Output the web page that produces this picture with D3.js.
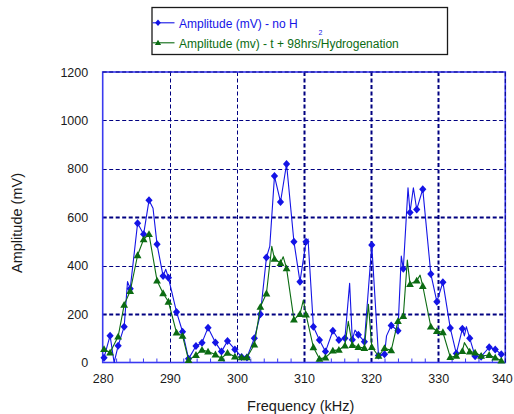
<!DOCTYPE html>
<html>
<head>
<meta charset="utf-8">
<script src="https://cdn.jsdelivr.net/npm/d3@7"></script>
<style>
  html, body { margin: 0; padding: 0; background: #fff; }
  svg { display: block; font-family: "Liberation Sans", Arial, Helvetica, sans-serif; }
</style>
</head>
<body>
<svg id="chart" width="514" height="414"></svg>
<script>
// Sampled frequencies (kHz) shared by both sweeps
const freqKHz = [
  280.2, 281.1, 282.3, 283.2, 284.1, 285.2, 286.1, 286.9, 288.1, 289.0,
  289.8, 291.0, 291.9, 292.8, 293.9, 294.8, 295.7, 296.8, 297.7, 298.6,
  299.7, 300.7, 301.5, 302.6, 303.5, 304.4, 305.6, 306.5, 307.4, 308.5,
  309.4, 310.3, 311.4, 312.3, 313.2, 314.3, 315.2, 316.1, 317.2, 318.1,
  319.0, 320.1, 321.1, 322.0, 323.0, 324.0, 324.8, 325.8, 326.8, 327.7,
  328.9, 329.8, 330.7, 331.8, 332.7, 333.6, 334.7, 335.5, 336.4, 337.6,
  338.5, 339.4
];

// Amplitude (mV) without hydrogen
const ampNoH2 = [
  20, 111, 69, 148, 305, 575, 530, 670, 488, 357,
  350, 209, 127, 15, 68, 82, 144, 83, 45, 89,
  54, 23, 21, 100, 199, 434, 770, 663, 820, 499,
  334, 499, 148, 93, 45, 131, 93, 100, 94, 115,
  86, 485, 29, 34, 153, 131, 387, 620, 632, 716,
  366, 251, 332, 142, 37, 139, 100, 26, 24, 63,
  54, 34
];

// Amplitude (mV) after 98 hrs of hydrogenation
const ampH2 = [
  55, 41, 107, 238, 295, 443, 509, 530, 338, 286,
  251, 123, 110, 10, 31, 52, 45, 33, 17, 40,
  24, 21, 21, 74, 230, 285, 428, 411, 389, 177,
  200, 198, 63, 15, 20, 49, 52, 70, 72, 64,
  60, 64, 27, 59, 50, 171, 192, 324, 338, 316,
  148, 130, 125, 22, 27, 47, 45, 41, 27, 31,
  20, 8
];

// Intermediate readings between samples (trace only, no marker): [kHz, mV]
const noH2Between = [
  [281.7, 0], [283.7, 334], [287.5, 637], [289.4, 385], [304.9, 480],
  [310.6, 510], [316.8, 327], [317.6, 134], [322.3, 110], [324.5, 440],
  [325.5, 722], [326.3, 722], [333.9, 110], [334.2, 148]
];
const h2Between = [
  [305.2, 480], [306.9, 437], [309.9, 258], [316.6, 170], [319.6, 240],
  [325.4, 423], [327.3, 361], [333.9, 82]
];

const xTicks = [280, 290, 300, 310, 320, 330, 340];
const xMinorTicks = [282, 284, 286, 288, 292, 294, 296, 298, 302, 304, 306, 308,
                     312, 314, 316, 318, 322, 324, 326, 328, 332, 334, 336, 338];
const yTicks = [0, 200, 400, 600, 800, 1000, 1200];

const seriesNames = ["Amplitude (mV) - no H", "Amplitude (mv) - t + 98hrs/Hydrogenation"];

const BLUE = "#1414e6";
const GREEN = "#0b6b12";
const GRID = "#000080";
const FRAME = "#3a3af0";

const svg = d3.select("#chart");

const plot = { left: 102.7, right: 505.3, top: 72, bottom: 362.5 };

const x = d3.scaleLinear().domain([280, 340]).range([plot.left, plot.right]);
const y = d3.scaleLinear().domain([0, 1200]).range([plot.bottom, plot.top]);

// plot background
svg.append("rect")
  .attr("x", plot.left).attr("y", plot.top)
  .attr("width", plot.right - plot.left).attr("height", plot.bottom - plot.top)
  .attr("fill", "#fff");

// dashed grid
const heavyY = new Set([200, 600]);
const heavyX = new Set([310, 320, 330]);
const grid = svg.append("g").attr("fill", "none").attr("stroke", GRID).attr("stroke-dasharray", "4,2.5");
grid.selectAll("line.gy")
  .data(yTicks.filter(v => v > 0 && v < 1200))
  .join("line")
  .attr("class", "gy")
  .attr("x1", plot.left).attr("x2", plot.right)
  .attr("y1", d => Math.round(y(d)) + 0.5).attr("y2", d => Math.round(y(d)) + 0.5)
  .attr("stroke-width", d => heavyY.has(d) ? 2 : 1);
grid.selectAll("line.gx")
  .data(xTicks.filter(v => v > 280 && v < 340))
  .join("line")
  .attr("class", "gx")
  .attr("y1", plot.top).attr("y2", plot.bottom)
  .attr("x1", d => Math.round(x(d)) + 0.5).attr("x2", d => Math.round(x(d)) + 0.5)
  .attr("stroke-width", d => heavyX.has(d) ? 2 : 1);

// plot frame
svg.append("rect")
  .attr("x", plot.left).attr("y", plot.top)
  .attr("width", plot.right - plot.left).attr("height", plot.bottom - plot.top)
  .attr("fill", "none").attr("stroke", FRAME).attr("stroke-width", 1.6);
// dashed overlay on top and right edges
svg.append("path")
  .attr("d", `M${plot.left},${plot.top}H${plot.right}V${plot.bottom}`)
  .attr("fill", "none").attr("stroke", GRID).attr("stroke-width", 1)
  .attr("stroke-dasharray", "4,2.5");

// axes
const xAxis = svg.append("g")
  .attr("transform", `translate(0,${plot.bottom})`)
  .call(d3.axisBottom(x).tickValues(xTicks).tickSize(0).tickPadding(12).tickFormat(d3.format("d")));
xAxis.select(".domain").remove();
// keep the last label inside the page edge
xAxis.selectAll(".tick text")
  .filter(d => d === 340)
  .attr("dx", "-3.5px");

const xMinor = svg.append("g")
  .attr("transform", `translate(0,${plot.bottom})`)
  .call(d3.axisBottom(x).tickValues(xMinorTicks).tickSizeInner(-4).tickSizeOuter(0).tickFormat(""));
xMinor.select(".domain").remove();
xMinor.selectAll("line").attr("stroke", FRAME);

const yAxis = svg.append("g")
  .attr("transform", `translate(${plot.left},0)`)
  .call(d3.axisLeft(y).tickValues(yTicks).tickSize(0).tickPadding(14.5).tickFormat(d3.format("d")));
yAxis.select(".domain").remove();

svg.selectAll(".tick text")
  .attr("font-family", "\"Liberation Sans\", Arial, sans-serif")
  .attr("font-size", 12.5)
  .attr("fill", "#1a1a1a");

// axis titles
svg.append("text")
  .attr("x", 300.7).attr("y", 411)
  .attr("text-anchor", "middle")
  .attr("font-size", 14.5).attr("fill", "#1a1a1a")
  .text("Frequency (kHz)");
svg.append("text")
  .attr("transform", "translate(22,223) rotate(-90)")
  .attr("text-anchor", "middle")
  .attr("font-size", 14.5).attr("fill", "#1a1a1a")
  .text("Amplitude (mV)");

// series
const diamond = "M0,-4L3.6,0L0,4L-3.6,0Z";
const triangle = "M0,-3.9L3.9,2.9L-3.9,2.9Z";

function tracePoints(amps, between) {
  return freqKHz.map((f, i) => [f, amps[i]])
    .concat(between)
    .sort((a, b) => a[0] - b[0]);
}

const line = d3.line().x(d => x(d[0])).y(d => y(d[1]));

const seriesDefs = [
  { amps: ampNoH2, between: noH2Between, color: BLUE, marker: diamond },
  { amps: ampH2, between: h2Between, color: GREEN, marker: triangle }
];

seriesDefs.forEach(s => {
  const g = svg.append("g");
  g.append("path")
    .datum(tracePoints(s.amps, s.between))
    .attr("d", line)
    .attr("fill", "none")
    .attr("stroke", s.color)
    .attr("stroke-width", 1.1)
    .attr("stroke-linejoin", "round");
  g.selectAll("path.mk")
    .data(freqKHz.map((f, i) => [f, s.amps[i]]))
    .join("path")
    .attr("class", "mk")
    .attr("d", s.marker)
    .attr("transform", d => `translate(${x(d[0])},${y(d[1])})`)
    .attr("fill", s.color);
});

// legend
const legend = svg.append("g");
legend.append("rect")
  .attr("x", 152).attr("y", 7.5)
  .attr("width", 295.5).attr("height", 47)
  .attr("fill", "#fff").attr("stroke", "#1a1a1a").attr("stroke-width", 1.3);

const legendRows = [
  { name: seriesNames[0], color: BLUE, marker: diamond, cy: 22.8, base: 27.6 },
  { name: seriesNames[1], color: GREEN, marker: triangle, cy: 42.8, base: 48 }
];
legendRows.forEach(r => {
  legend.append("line")
    .attr("x1", 152.5).attr("x2", 174.5)
    .attr("y1", r.cy).attr("y2", r.cy)
    .attr("stroke", r.color).attr("stroke-width", 1.1);
  legend.append("path")
    .attr("d", r.marker)
    .attr("transform", `translate(158,${r.cy}) scale(0.8)`)
    .attr("fill", r.color);
  legend.append("text")
    .attr("x", 179).attr("y", r.base)
    .attr("font-size", 12).attr("fill", r.color)
    .text(r.name);
});
// subscript of H2
legend.append("text")
  .attr("x", 318.5).attr("y", 35)
  .attr("font-size", 7).attr("fill", BLUE)
  .text("2");
</script>
</body>
</html>
